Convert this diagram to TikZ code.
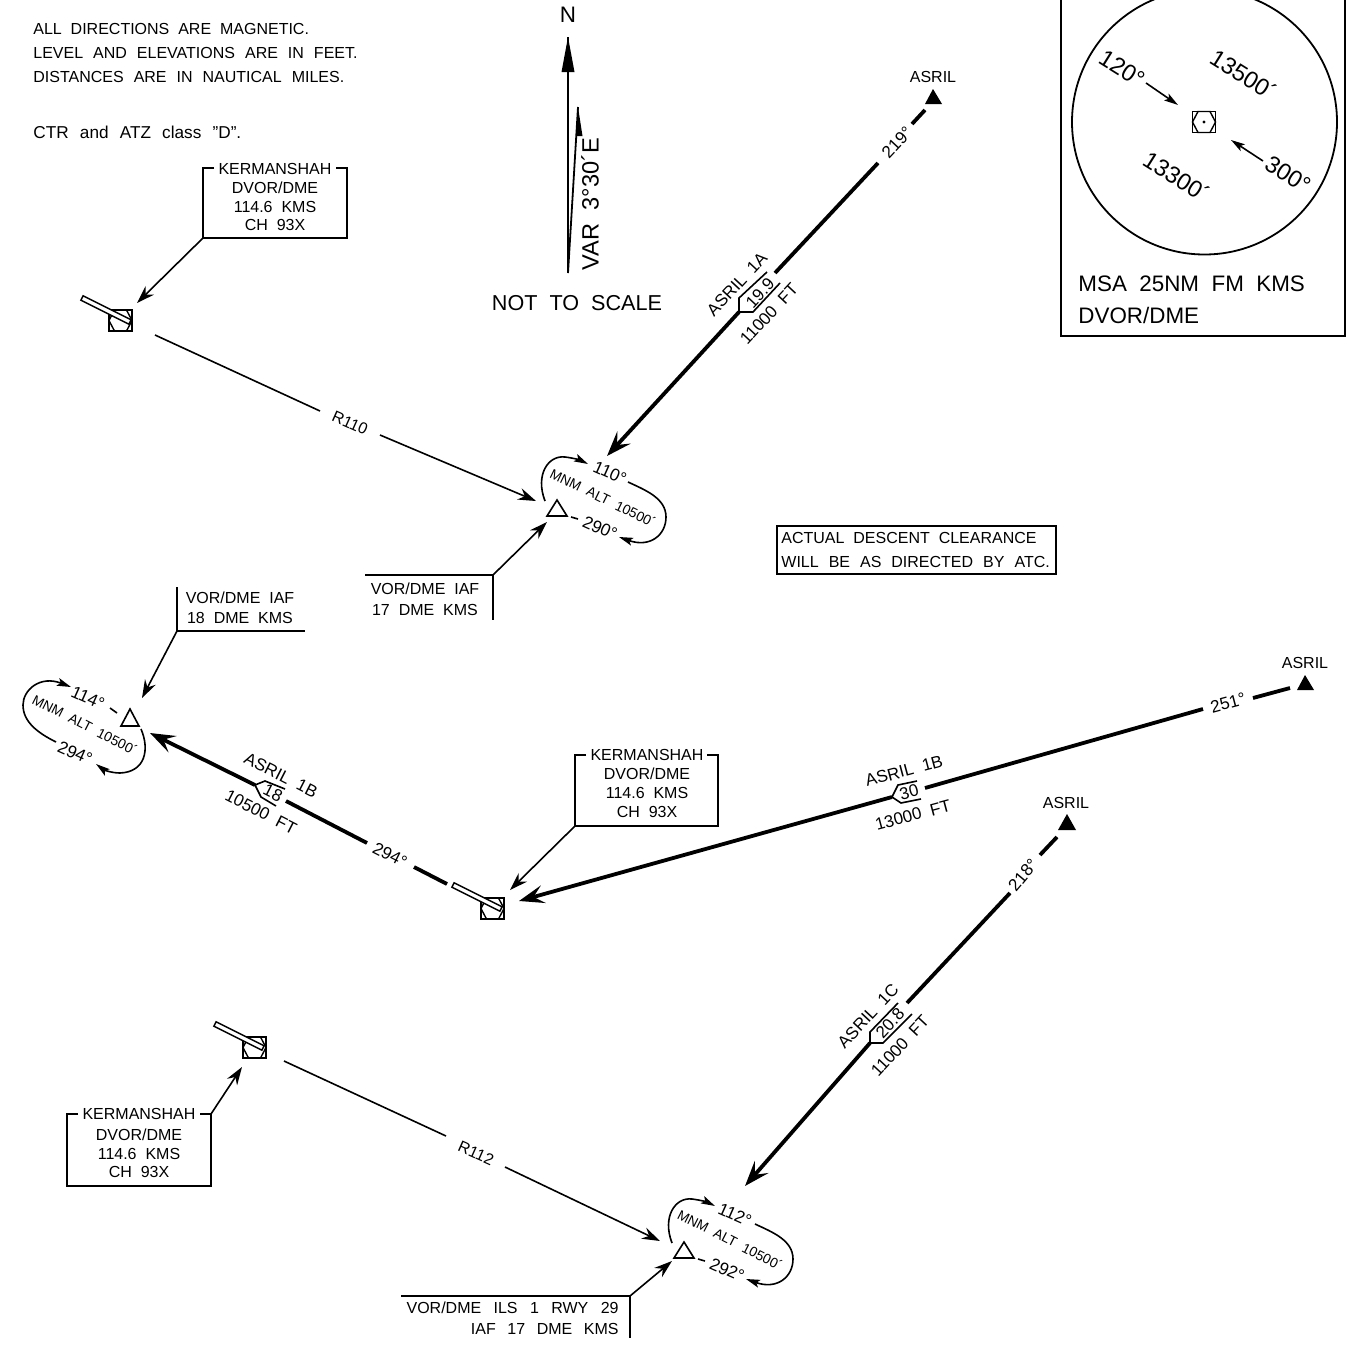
\documentclass[tikz,border=0pt]{standalone}
\usepackage{fontspec}
\setmainfont{Liberation Sans}
\usetikzlibrary{arrows.meta}
\newcommand{\G}{\hspace{5pt}}
\tikzset{
  lbl/.style={inner sep=0pt,font=\fontsize{8}{9}\selectfont,align=center},
  rte/.style={inner sep=0pt,font=\fontsize{8.5}{9}\selectfont},
  hdg/.style={inner sep=0pt,font=\fontsize{8.6}{9}\selectfont},
  small/.style={inner sep=0pt,font=\fontsize{6.9}{7}\selectfont},
  mid/.style={inner sep=0pt,font=\fontsize{11.2}{12}\selectfont},
  big/.style={inner sep=0pt,font=\fontsize{11.2}{12}\selectfont},
  mbig/.style={inner sep=0pt,font=\fontsize{11.8}{12}\selectfont},
  nts/.style={inner sep=0pt,font=\fontsize{10.8}{12}\selectfont},
  thinl/.style={line width=.8pt},
  thickl/.style={line width=1.9pt},
  thina/.style={thinl,-{Stealth[length=9pt,width=6pt,inset=3pt]}},
  smalla/.style={line width=.8pt,-{Stealth[length=7pt,width=4pt,inset=1.5pt]}},
  thicka/.style={thickl,-{Stealth[length=12.5pt,width=9pt,inset=5pt]}},
  sq/.style={draw,line width=.8pt,minimum width=11.5pt,minimum height=10.5pt,inner sep=0pt},
  tri/.style={draw,line width=.8pt,line join=miter},
  needle/.style={draw,fill=white,line width=.7pt},
  flag/.style={line width=.8pt},
}
\newcommand{\hexin}[2]{\draw[line width=.7pt] (#1-11.5,#2) -- (#1-6,#2-10.5) -- (#1+6,#2-10.5) -- (#1+11.5,#2) -- (#1+6,#2+10.5) -- (#1-6,#2+10.5) -- cycle;}
\newcommand{\needleat}[2]{\path[needle] (#1+83.1,#2+295.8) -- (#1+131.1,#2+319.8) -- (#1+128.9,#2+324.2) -- (#1+80.9,#2+300.2) -- cycle;}
\begin{document}
\begin{tikzpicture}[x=.5pt,y=-.5pt]
\useasboundingbox (0,0) rectangle (1346,1349);
\begin{scope}
\clip (0,0) rectangle (1346,1349);
% notes
\node[lbl,anchor=west] (n1) at (33,29) {ALL\ \ DIRECTIONS\ \ ARE\ \ MAGNETIC.};
\node[lbl,anchor=west] (n2) at (33,53) {LEVEL\G AND\G ELEVATIONS\G ARE\G IN\G FEET.};
\node[lbl,anchor=west] (n3) at (33,77) {DISTANCES\G ARE\G IN\G NAUTICAL\G MILES.};
\node[lbl,anchor=west,font=\fontsize{8.6}{9}\selectfont] (n4) at (33,132) {CTR\hspace{5.6pt}and\hspace{5.6pt}ATZ\hspace{5.6pt}class\hspace{5.6pt}"D".};
% north
\node[mid] (north) at (568,15) {N};
\coordinate (nb) at (568,273);
\coordinate (nt) at (568,37);
\coordinate (vt) at (578,107);
\draw[line width=1pt] (nb) -- (nt);
\fill (nt) -- (574.5,72) -- (561.5,72) -- cycle;
\draw[line width=.9pt] (nb) -- (vt);
\fill (578,107) -- (582.5,136) -- (576,136) -- cycle;
\node[mbig,rotate=90] (var) at (590,204) {VAR\ \ 3°30´E};
\node[nts] (ntsc) at (577,303) {NOT\ \ TO\ \ SCALE};
% MSA
\draw[line width=.9pt] (1061,-5) -- (1061,336) -- (1345,336) -- (1345,-5);
\draw[line width=.9pt] (1204.5,122) circle[radius=132.5];
\node[sq] (msa) at (1204,122) {};
\hexin{1204}{122}
\fill (1204,122) circle[radius=1.6];
\coordinate (ma1) at (1146,83); \coordinate (ma2) at (1178,105);
\coordinate (mb1) at (1263,161); \coordinate (mb2) at (1231,140);
\draw[smalla] (ma1) -- (ma2);
\draw[smalla] (mb1) -- (mb2);
\node[mbig,rotate=-32] (m1) at (1122,69) {120°};
\node[mbig,rotate=-32] (m2) at (1244,75) {13500´};
\node[mbig,rotate=-32] (m3) at (1177,177) {13300´};
\node[mbig,rotate=-32] (m4) at (1288,175) {300°};
\node[big,anchor=west] (m5) at (1078,284) {MSA\ \ 25NM\ \ FM\ \ KMS};
\node[big,anchor=west] (m6) at (1078,315) {DVOR/DME};
% Clearance box
\draw[line width=.9pt] (777,526) rectangle (1056,574);
\node[lbl,anchor=west] (c1) at (781,538) {ACTUAL\ \ DESCENT\ \ CLEARANCE};
\node[lbl,anchor=west] (c2) at (781,562) {WILL\G BE\G AS\G DIRECTED\G BY\G ATC.};
% KERMANSHAH box 1
\draw[thinl] (214,168) -- (203,168) -- (203,238) -- (347,238) -- (347,168) -- (336,168);
\node[lbl] (k1a) at (275,169) {KERMANSHAH};
\node[lbl] (k1b) at (275,188) {DVOR/DME};
\node[lbl] (k1c) at (275,207) {114.6\ \ KMS};
\node[lbl] (k1d) at (275,225) {CH\ \ 93X};
\coordinate (k1s) at (203,238); \coordinate (k1e) at (137,303);
\draw[thina] (k1s) -- (k1e);
% VOR symbol 1
\node[sq] (v1) at (120.5,320.5) {};
\hexin{120.5}{320.5}
\needleat{0}{0}
\coordinate (r1s) at (155,335); \coordinate (r1a) at (320,411); \coordinate (r1b) at (380,435); \coordinate (r1e) at (536,501);
\draw[thinl] (r1s) -- (r1a);
\node[lbl,rotate=-24] (r110) at (350,423) {R110};
\draw[thina] (r1b) -- (r1e);
% ASRIL 1A
\fill (933,89) -- (942,104) -- (925,104) -- cycle;
\node[lbl] (as1) at (933,77) {ASRIL};
\coordinate (a1) at (925,110); \coordinate (a2) at (912,124); \coordinate (a3) at (878,163); \coordinate (a4) at (775,273); \coordinate (a5) at (739,312); \coordinate (a6) at (607,456);
\draw[thickl] (a1) -- (a2);
\node[hdg,rotate=47] (t219) at (897,142) {219°};
\draw[thickl] (a3) -- (a4);
\draw[thicka] (a5) -- (a6);
\draw[flag] (767,272) -- (739,298) -- (739,312) -- (753,312) -- (780,283);
\node[rte,rotate=47] (f199) at (760,293) {19.9};
\node[rte,rotate=47] (n1a) at (737,284) {ASRIL\ \ 1A};
\node[rte,rotate=47] (a1a) at (769,314) {11000\ \ FT};
% Racetrack 1
\draw[tri] (557,500) -- (567,516) -- (547,516) -- cycle;
\draw[smalla] (545,501) .. controls (535,475) and (548,455) .. (565,457) .. controls (573,458) and (580,460) .. (588,464);
\draw[smalla] (628,482) .. controls (645,490) and (666,498) .. (666,517) .. controls (666,535) and (650,548) .. (619,537);
\draw[thinl] (571,517) -- (578,519);
\node[hdg,rotate=-24] (h110) at (610,473) {110°};
\node[small,rotate=-26] (mnm1) at (603,498) {MNM\ \ ALT\ \ 10500´};
\node[hdg,rotate=-24] (h290) at (600,528) {290°};
\draw[thinl] (365,575) -- (493,575) -- (493,620);
\node[lbl] (v17a) at (425,589) {VOR/DME\ \ IAF};
\node[lbl] (v17b) at (425,610) {17\ \ DME\ \ KMS};
\coordinate (v17s) at (493,575); \coordinate (v17e) at (547,522);
\draw[thina] (v17s) -- (v17e);
% IAF 18
\draw[thinl] (177,587) -- (177,631) -- (305,631);
\node[lbl] (v18a) at (240,598) {VOR/DME\ \ IAF};
\node[lbl] (v18b) at (240,618) {18\ \ DME\ \ KMS};
\coordinate (v18s) at (177,631); \coordinate (v18e) at (142,698);
\draw[thina] (v18s) -- (v18e);
% Racetrack 2
\draw[tri] (130,709) -- (139,726) -- (121,726) -- cycle;
\draw[smalla] (56,742) .. controls (38,733) and (23,722) .. (23,705) .. controls (23,690) and (40,675) .. (71,687);
\draw[smalla] (141,729) .. controls (150,750) and (145,772) .. (120,773) .. controls (112,773) and (104,770) .. (96,764);
\draw[thinl] (110,708) -- (117,713);
\node[hdg,rotate=-24] (h114) at (88,698) {114°};
\node[small,rotate=-27] (mnm2) at (85,725) {MNM\ \ ALT\ \ 10500´};
\node[hdg,rotate=-24] (h294) at (75,753) {294°};
% ASRIL 1B left
\coordinate (b1) at (447,884); \coordinate (b2) at (414,867); \coordinate (b3) at (367,843); \coordinate (b4) at (286,801); \coordinate (b5) at (255,785); \coordinate (b6) at (150,733);
\draw[thickl] (b1) -- (b2);
\node[hdg,rotate=-27] (t294) at (390,855) {294°};
\draw[thickl] (b3) -- (b4);
\draw[thicka] (b5) -- (b6);
\draw[flag] (285,789) -- (265,781) -- (255,785) -- (261,797) -- (276,806);
\node[rte,rotate=-27] (f18) at (273,793) {18};
\node[rte,rotate=-27] (n1b) at (281,775) {ASRIL\ \ 1B};
\node[rte,rotate=-27] (a1b) at (261,812) {10500\ \ FT};
% VOR symbol 2
\node[sq] (v2) at (492.5,908.5) {};
\hexin{492.5}{908.5}
\needleat{371}{587}
% Box 2
\draw[thinl] (586,755) -- (575,755) -- (575,826) -- (718,826) -- (718,755) -- (707,755);
\node[lbl] (k2a) at (647,755) {KERMANSHAH};
\node[lbl] (k2b) at (647,774) {DVOR/DME};
\node[lbl] (k2c) at (647,793) {114.6\ \ KMS};
\node[lbl] (k2d) at (647,812) {CH\ \ 93X};
\coordinate (k2s) at (575,826); \coordinate (k2e) at (510,890);
\draw[thina] (k2s) -- (k2e);
% ASRIL 1B right
\fill (1305,675) -- (1314,690) -- (1297,690) -- cycle;
\node[lbl] (as2) at (1305,663) {ASRIL};
\coordinate (c1p) at (1290,688); \coordinate (c2p) at (1253,698); \coordinate (c3p) at (1203,709); \coordinate (c4p) at (925,788); \coordinate (c5p) at (892,797); \coordinate (c6p) at (519,901);
\draw[thickl] (c1p) -- (c2p);
\node[hdg,rotate=15] (t251) at (1228,703) {251°};
\draw[thickl] (c3p) -- (c4p);
\draw[thicka] (c5p) -- (c6p);
\draw[flag] (917,781) -- (898,785) -- (892,797) -- (901,803) -- (921,799);
\node[rte,rotate=15] (f30) at (909,792) {30};
\node[rte,rotate=15] (n1bb) at (904,771) {ASRIL\ \ 1B};
\node[rte,rotate=15] (a1bb) at (913,815) {13000\ \ FT};
% ASRIL 1C
\fill (1067,814) -- (1076,830) -- (1058,830) -- cycle;
\node[lbl] (as3) at (1066,803) {ASRIL};
\coordinate (d1) at (1057,837); \coordinate (d2) at (1040,855); \coordinate (d3) at (1010,893); \coordinate (d4) at (907,1003); \coordinate (d5) at (870,1043); \coordinate (d6) at (745,1186);
\draw[thickl] (d1) -- (d2);
\node[hdg,rotate=50] (t218) at (1023,875) {218°};
\draw[thickl] (d3) -- (d4);
\draw[thicka] (d5) -- (d6);
\draw[flag] (898,1003) -- (870,1032) -- (870,1043) -- (883,1043) -- (912,1014);
\node[rte,rotate=47] (f208) at (890,1023) {20.8};
\node[rte,rotate=47] (n1c) at (868,1016) {ASRIL\ \ 1C};
\node[rte,rotate=47] (a1c) at (900,1046) {11000\ \ FT};
% VOR symbol 3
\node[sq] (v3) at (254.5,1047.5) {};
\hexin{254.5}{1047.5}
\needleat{133}{726}
\coordinate (r2s) at (284,1061); \coordinate (r2a) at (446,1136); \coordinate (r2b) at (505,1167); \coordinate (r2e) at (660,1241);
\draw[thinl] (r2s) -- (r2a);
\node[lbl,rotate=-24] (r112) at (476,1153) {R112};
\draw[thina] (r2b) -- (r2e);
% Box 3
\draw[thinl] (78,1114) -- (67,1114) -- (67,1186) -- (211,1186) -- (211,1114) -- (200,1114);
\node[lbl] (k3a) at (139,1114) {KERMANSHAH};
\node[lbl] (k3b) at (139,1135) {DVOR/DME};
\node[lbl] (k3c) at (139,1154) {114.6\ \ KMS};
\node[lbl] (k3d) at (139,1172) {CH\ \ 93X};
\coordinate (k3s) at (211,1114); \coordinate (k3e) at (242,1067);
\draw[thina] (k3s) -- (k3e);
% Racetrack 3
\begin{scope}[shift={(127,742)}]
\draw[tri] (557,500) -- (567,516) -- (547,516) -- cycle;
\draw[smalla] (545,501) .. controls (535,475) and (548,455) .. (565,457) .. controls (573,458) and (580,460) .. (588,464);
\draw[smalla] (628,482) .. controls (645,490) and (666,498) .. (666,517) .. controls (666,535) and (650,548) .. (619,537);
\draw[thinl] (571,517) -- (578,519);
\node[hdg,rotate=-24] (h112) at (608,473) {112°};
\node[small,rotate=-27] (mnm3) at (603,498) {MNM\ \ ALT\ \ 10500´};
\node[hdg,rotate=-24] (h292) at (600,528) {292°};
\end{scope}
\draw[thinl] (401,1296) -- (630,1296) -- (630,1338);
\node[lbl,anchor=east] (i1) at (619,1308) {VOR/DME\hspace{6.2pt}ILS\hspace{6.2pt}1\hspace{6.2pt}RWY\hspace{6.2pt}29};
\node[lbl,anchor=east] (i2) at (619,1329) {IAF\hspace{5.8pt}17\hspace{5.8pt}DME\hspace{5.8pt}KMS};
\coordinate (is) at (630,1296); \coordinate (ie) at (672,1261);
\draw[thina] (is) -- (ie);
\end{scope}
\end{tikzpicture}
\end{document}
